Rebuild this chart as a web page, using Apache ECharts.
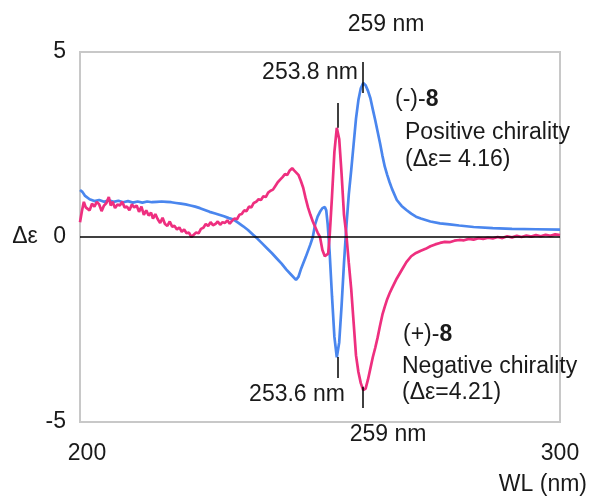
<!DOCTYPE html>
<html>
<head>
<meta charset="utf-8">
<script src="https://cdn.jsdelivr.net/npm/echarts@6/dist/echarts.min.js"></script>
<style>
html,body{margin:0;padding:0;background:#fff;}
#chart{width:590px;height:496px;}
</style>
</head>
<body>
<div id="chart"></div>
<script>
// ---- data ----
const xTicks = [200, 300];
const yTicks = [-5, 0, 5];

// (-)-8 : positive chirality (blue)
const minusEight = [
[200,1.27],[200.5,1.22],[201,1.12],[202,1.02],[203,0.97],[204,1.0],[205,0.95],[206,0.99],[207,0.95],[208,0.98],
[209,0.94],[210,0.97],[211,0.93],[212,0.96],[213,0.93],[214,0.96],[215,0.94],[216,0.95],[217,0.96],[218,0.95],
[219,0.94],[220,0.92],[221,0.90],[222,0.88],[223,0.85],[224,0.82],[225,0.78],[226,0.73],[227,0.68],[228,0.64],
[229,0.60],[230,0.56],[231,0.51],[232,0.47],[233,0.38],[234,0.29],[235,0.19],[236,0.07],[237,-0.05],[238,-0.18],
[239,-0.31],[240,-0.44],[241,-0.58],[242,-0.72],[243,-0.88],[244,-1.02],[245,-1.16],[245.5,-1.08],[246,-0.88],[247,-0.55],
[248,-0.2],[248.5,0.0],[249,0.35],[249.5,0.55],[250,0.68],[250.5,0.78],[251,0.81],[251.3,0.72],[251.6,0.35],[252,-0.4],
[252.5,-1.6],[253,-2.7],[253.5,-3.25],[254,-2.85],[254.5,-1.85],[255,-0.7],[255.5,0.3],[256,1.15],[256.5,1.8],[257,2.5],
[257.5,3.2],[258,3.7],[258.5,4.02],[259,4.16],[259.5,4.1],[260,3.95],[260.5,3.75],[261,3.45],[261.5,3.16],[262,2.85],
[262.5,2.54],[263,2.2],[263.5,1.9],[264,1.68],[264.5,1.48],[265,1.3],[266,1.0],[267,0.84],[268,0.73],[269,0.63],
[270,0.55],[271,0.5],[272,0.46],[273,0.42],[275,0.37],[277,0.34],[279,0.31],[282,0.27],[286,0.24],[290,0.22],
[295,0.21],[300,0.2]
];

// (+)-8 : negative chirality (pink)
const plusEight = [
[200,0.4],[200.4,0.7],[200.8,0.95],[201.2,0.8],[201.6,0.85],[202,0.72],[202.5,0.9],[203,0.82],[203.5,0.95],[204,0.88],
[204.5,0.7],[205,0.85],[205.5,0.92],[206,1.08],[206.4,0.85],[206.8,0.95],[207.3,0.78],[207.8,0.88],[208.3,0.85],[208.8,0.95],
[209.3,0.8],[209.8,0.82],[210.3,0.72],[210.8,0.88],[211.3,0.8],[211.8,0.85],[212.3,0.68],[212.8,0.82],[213.3,0.6],[213.8,0.72],
[214.3,0.58],[214.8,0.66],[215.2,0.5],[215.7,0.62],[216.2,0.48],[216.7,0.38],[217.2,0.52],[217.7,0.35],[218.2,0.3],[218.7,0.42],
[219.2,0.28],[219.7,0.3],[220.2,0.2],[220.7,0.26],[221.2,0.14],[221.7,0.2],[222.2,0.1],[222.7,0.12],[223.2,0.0],[223.7,0.06],
[224.2,0.12],[224.7,0.1],[225.2,0.22],[225.7,0.25],[226.2,0.35],[226.7,0.3],[227.2,0.4],[227.7,0.32],[228.2,0.35],[228.7,0.42],
[229.2,0.33],[229.7,0.4],[230.2,0.38],[230.7,0.45],[231.2,0.36],[231.7,0.44],[232.2,0.5],[232.7,0.48],[233.2,0.6],[233.7,0.62],
[234.2,0.72],[234.7,0.7],[235.2,0.82],[235.7,0.8],[236.2,0.92],[236.7,0.95],[237.2,1.02],[237.7,1.0],[238.2,1.1],[238.7,1.08],
[239.2,1.2],[239.7,1.25],[240.2,1.28],[240.7,1.38],[241.2,1.48],[241.7,1.55],[242.2,1.62],[242.7,1.7],[243.2,1.68],[243.7,1.8],
[244.2,1.86],[244.6,1.8],[245,1.78],[245.5,1.68],[246,1.52],[246.5,1.33],[247,1.05],[247.5,0.8],[248,0.6],
[248.5,0.42],[249,0.27],[249.5,0.12],[250,0.0],[250.5,-0.35],[251,-0.52],[251.3,-0.57],[251.7,-0.45],[252,0.0],[252.5,1.1],
[253,2.3],[253.5,2.95],[254,2.65],[254.5,1.7],[255,0.6],[255.5,0.05],[256,-0.7],[256.5,-1.4],[257,-2.3],[257.5,-3.2],
[258,-3.65],[258.5,-3.95],[259,-4.14],[259.5,-4.1],[260,-3.85],[260.5,-3.55],[261,-3.25],[261.5,-3.0],[262,-2.72],[262.5,-2.4],
[263,-2.1],[263.5,-1.88],[264,-1.68],[264.5,-1.52],[265,-1.38],[266,-1.12],[267,-0.9],[268,-0.68],[269,-0.52],[270,-0.43],
[271,-0.37],[272,-0.32],[273,-0.25],[274,-0.2],[275,-0.16],[276,-0.13],[277,-0.14],[278,-0.1],[279,-0.08],[280,-0.09],
[281,-0.05],[282,-0.07],[283,-0.03],[284,-0.05],[285,-0.02],[286,-0.04],[287,0.0],[288,-0.03],[289,0.02],[290,-0.01],
[291,0.03],[292,0.0],[293,0.04],[294,0.01],[295,0.05],[296,0.02],[297,0.06],[298,0.03],[299,0.07],[300,0.05]
];

// annotation tick marks: [wavelength, yFrom, yTo]
const peakTicks = [[259, 4.73, 3.89], [253.8, 3.62, 2.95], [253.6, -3.24, -3.81], [259, -4.05, -4.62]];

// ---- chart ----
const FONT = '"Liberation Sans", Arial, Helvetica, sans-serif';
const TXT = '#1a1a1a';
const chart = echarts.init(document.getElementById('chart'), null, {renderer: 'canvas'});

const tickLines = peakTicks.map(t => [{coord: [t[0], t[1]]}, {coord: [t[0], t[2]]}]);

function txt(x, y, text, align, extra) {
  return Object.assign({
    type: 'text', x: x, y: y, z: 50,
    style: {text: text, font: '23px ' + FONT, fill: TXT, align: align || 'left', verticalAlign: 'middle'}
  }, extra || {});
}

chart.setOption({
  animation: false,
  backgroundColor: '#fff',
  grid: {left: 80, top: 52, width: 480, height: 370, show: true, borderColor: '#c8c8c8', borderWidth: 2, backgroundColor: 'transparent'},
  xAxis: {
    type: 'value', min: xTicks[0], max: xTicks[1], interval: 100,
    axisLine: {show: false}, axisTick: {show: false}, splitLine: {show: false},
    axisLabel: {
      margin: 20, color: TXT, fontSize: 23, fontFamily: FONT,
      formatter: v => v === xTicks[0] ? '{l|' + v + '}' : String(v),
      rich: {l: {fontSize: 23, fontFamily: FONT, color: TXT, padding: [0, 0, 0, 14]}}
    }
  },
  yAxis: {
    type: 'value', min: yTicks[0], max: yTicks[2], interval: 5,
    axisLine: {show: false}, axisTick: {show: false}, splitLine: {show: false},
    axisLabel: {margin: 14, color: TXT, fontSize: 23, fontFamily: FONT}
  },
  series: [
    {
      name: '(-)-8', type: 'line', data: minusEight, showSymbol: false, smooth: false,
      lineStyle: {color: '#4a86ee', width: 2.7}, itemStyle: {color: '#4a86ee'}, z: 3,
      markLine: {
        silent: true, symbol: 'none', label: {show: false},
        lineStyle: {color: '#000', width: 1.5, type: 'solid'},
        data: [[{coord: [200, 0]}, {coord: [300, 0]}]].concat(tickLines)
      }
    },
    {
      name: '(+)-8', type: 'line', data: plusEight, showSymbol: false, smooth: false,
      lineStyle: {color: '#ee2f7f', width: 2.7}, itemStyle: {color: '#ee2f7f'}, z: 4
    }
  ],
  graphic: [
    txt(25, 237, 'Δε', 'center'),
    txt(386, 25, '259 nm', 'center'),
    txt(358, 73, '253.8 nm', 'right'),
    {type: 'text', x: 395, y: 100, z: 50, style: {
      text: '{n|(-)-}{b|8}', verticalAlign: 'middle', align: 'left',
      rich: {n: {font: '23px ' + FONT, fill: TXT}, b: {font: 'bold 23px ' + FONT, fill: TXT}}
    }},
    txt(405, 133, 'Positive chirality', 'left'),
    txt(405, 160, '(Δε= 4.16)', 'left'),
    txt(345, 395, '253.6 nm', 'right'),
    txt(388, 435, '259 nm', 'center'),
    {type: 'text', x: 403, y: 335, z: 50, style: {
      text: '{n|(+)-}{b|8}', verticalAlign: 'middle', align: 'left',
      rich: {n: {font: '23px ' + FONT, fill: TXT}, b: {font: 'bold 23px ' + FONT, fill: TXT}}
    }},
    txt(402, 367, 'Negative chirality', 'left'),
    txt(402, 393, '(Δε=4.21)', 'left'),
    txt(587, 485, 'WL (nm)', 'right')
  ]
});
</script>
</body>
</html>
